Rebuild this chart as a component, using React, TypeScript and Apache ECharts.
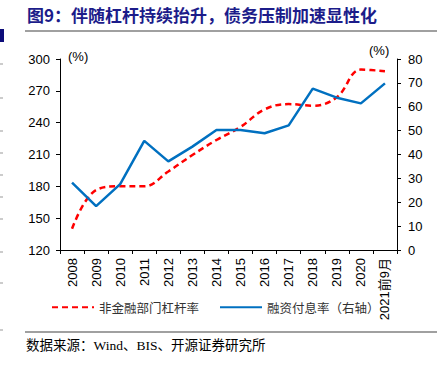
import React, { useEffect, useRef } from "react";
import * as echarts from "echarts";

const categories = ["2008", "2009", "2010", "2011", "2012", "2013", "2014", "2015", "2016", "2017", "2018", "2019", "2020", "2021前9月"];
const leverage = [140, 176.5, 180, 180, 194, 209.5, 223.7, 236, 252.5, 257.5, 256, 264, 290, 288.5];
const interestRate = [28.2, 18.4, 27.6, 45.7, 37.1, 43.3, 50.3, 50.3, 48.9, 52.2, 67.6, 63.8, 61.4, 69.8];
const leftTicks = { min: 120, max: 300, interval: 30 };
const rightTicks = { min: 0, max: 80, interval: 10 };

const CJK = '"Liberation Sans", "Noto Sans CJK SC", sans-serif';
const SERIF = '"Liberation Serif", "Noto Sans CJK SC", serif';

export default function App() {
  const ref = useRef<HTMLDivElement>(null);
  useEffect(() => {
    if (!ref.current) return;
    const chart = echarts.init(ref.current, undefined, { renderer: "svg" });
    const axisLine = { show: true, lineStyle: { color: "#000", width: 1 } };
    const axisLabel = { color: "#000", fontSize: 13, fontFamily: '"Liberation Sans", Arial, sans-serif' };
    const leftEdgeMarks = [64, 98, 131, 153, 175, 197, 219, 252, 283, 330].map((y) => ({
      type: "line",
      shape: { x1: 0, y1: y, x2: 3, y2: y },
      style: { stroke: "#999", lineWidth: 1 },
    }));
    chart.setOption({
      animation: false,
      backgroundColor: "#fff",
      grid: { left: 60, right: 49, top: 59, bottom: 118, containLabel: false },
      xAxis: {
        type: "category",
        data: categories,
        boundaryGap: true,
        axisLine,
        axisTick: { show: true, length: 4, lineStyle: { color: "#000" } },
        axisLabel: { ...axisLabel, rotate: 90, margin: 8, interval: 0, fontFamily: CJK },
      },
      yAxis: [
        {
          type: "value",
          position: "left",
          ...leftTicks,
          axisLine,
          axisTick: { show: true, length: 4, lineStyle: { color: "#000" } },
          axisLabel: { ...axisLabel, margin: 10 },
          splitLine: { show: false },
        },
        {
          type: "value",
          position: "right",
          ...rightTicks,
          axisLine,
          axisTick: { show: true, length: 4, lineStyle: { color: "#000" } },
          axisLabel: { ...axisLabel, margin: 11 },
          splitLine: { show: false },
        },
      ],
      legend: {
        left: 46,
        top: 296,
        itemWidth: 42,
        itemHeight: 14,
        itemGap: 20,
        itemStyle: { opacity: 0 },
        textStyle: { color: "#333", fontSize: 12.5, fontFamily: '"Noto Sans CJK SC", sans-serif' },
        data: ["非金融部门杠杆率", "融资付息率（右轴）"],
      },
      series: [
        {
          name: "非金融部门杠杆率",
          type: "line",
          yAxisIndex: 0,
          data: leverage,
          smooth: 0.4,
          symbol: "none",
          lineStyle: { color: "#FF0000", width: 2.5, type: [6, 4] },
          itemStyle: { color: "#FF0000" },
        },
        {
          name: "融资付息率（右轴）",
          type: "line",
          yAxisIndex: 1,
          data: interestRate,
          symbol: "none",
          lineStyle: { color: "#0070C0", width: 2.5 },
          itemStyle: { color: "#0070C0" },
        },
      ],
      graphic: [
        {
          type: "text",
          left: 27,
          top: 6,
          style: {
            text: "图9：伴随杠杆持续抬升，债务压制加速显性化",
            fill: "#1c1c8a",
            font: 'bold 17px "Noto Sans CJK SC", sans-serif',
          },
        },
        { type: "line", shape: { x1: 25, y1: 31, x2: 437, y2: 31 }, style: { stroke: "#808080", lineWidth: 1.5 } },
        { type: "line", shape: { x1: 25, y1: 332, x2: 437, y2: 332 }, style: { stroke: "#808080", lineWidth: 1.5 } },
        { type: "rect", shape: { x: 0, y: 29, width: 4, height: 13 }, style: { fill: "#0d0d7a" } },
        ...leftEdgeMarks,
        {
          type: "text",
          left: 68,
          top: 50,
          style: { text: "(%)", fill: "#000", font: '13px "Liberation Sans", Arial, sans-serif' },
        },
        {
          type: "text",
          left: 369,
          top: 44,
          style: { text: "(%)", fill: "#000", font: '13px "Liberation Sans", Arial, sans-serif' },
        },
        {
          type: "text",
          left: 26,
          top: 339,
          style: { text: "数据来源：Wind、BIS、开源证券研究所", fill: "#000", font: '13.5px ' + SERIF },
        },
      ],
    });
    return () => chart.dispose();
  }, []);
  return <div ref={ref} style={{ position: "absolute", left: 0, top: 0, width: 446, height: 368 }} />;
}
